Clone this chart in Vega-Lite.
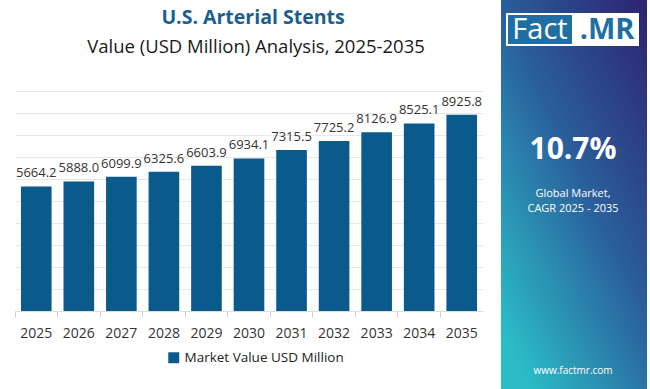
{
  "$schema": "https://vega.github.io/schema/vega-lite/v6.json",
  "width": 468,
  "height": 220,
  "autosize": {"type": "none"},
  "padding": {"left": 15, "top": 91, "right": 167, "bottom": 78},
  "background": "white",
  "config": {"font": "Open Sans", "view": {"stroke": null}},
  "data": {
    "values": [
      {"year": "2025", "value": 5664.2},
      {"year": "2026", "value": 5888.0},
      {"year": "2027", "value": 6099.9},
      {"year": "2028", "value": 6325.6},
      {"year": "2029", "value": 6603.9},
      {"year": "2030", "value": 6934.1},
      {"year": "2031", "value": 7315.5},
      {"year": "2032", "value": 7725.2},
      {"year": "2033", "value": 8126.9},
      {"year": "2034", "value": 8525.1},
      {"year": "2035", "value": 8925.8}
    ]
  },
  "layer": [
    {
      "encoding": {
        "x": {
          "field": "year",
          "type": "ordinal",
          "scale": {"paddingInner": 0, "paddingOuter": 0},
          "axis": {
            "title": null,
            "labelAngle": 0,
            "labelFontSize": 14,
            "labelColor": "#333333",
            "labelPadding": 9,
            "tickColor": "#d0d0d0",
            "tickSize": 6,
            "domainColor": "#dddddd",
            "bandPosition": 0
          }
        },
        "y": {
          "field": "value",
          "type": "quantitative",
          "scale": {"domain": [0, 10000]},
          "axis": {
            "title": null,
            "labels": false,
            "ticks": false,
            "domain": false,
            "values": [0, 1000, 2000, 3000, 4000, 5000, 6000, 7000, 8000, 9000, 10000],
            "gridColor": "#e8e8e8"
          }
        }
      },
      "layer": [
        {
          "mark": {"type": "bar", "width": {"band": 0.72}},
          "encoding": {
            "color": {
              "datum": "Market Value USD Million",
              "scale": {"range": ["#0b5a8c"]},
              "legend": {
                "title": null,
                "orient": "none",
                "legendX": 152,
                "legendY": 260,
                "direction": "horizontal",
                "symbolType": "square",
                "symbolSize": 120,
                "labelFontSize": 13.5,
                "labelColor": "#222222"
              }
            }
          }
        },
        {
          "mark": {"type": "text", "baseline": "bottom", "dy": -6, "fontSize": 13, "color": "#333333"},
          "encoding": {
            "text": {"field": "value", "type": "quantitative", "format": ".1f"}
          }
        }
      ]
    },
    {
      "data": {"values": [{}]},
      "layer": [
        {
          "mark": {"type": "text", "text": "U.S. Arterial Stents", "x": 238, "y": -73, "align": "center", "baseline": "middle", "fontSize": 19.5, "fontWeight": "bold", "color": "#1a5e90"},
          "encoding": {}
        },
        {
          "mark": {"type": "text", "text": "Value (USD Million) Analysis, 2025-2035", "x": 241, "y": -44, "align": "center", "baseline": "middle", "fontSize": 18.5, "color": "#1a1a1a"},
          "encoding": {}
        },
        {
          "mark": {"type": "rule", "x": -5, "x2": 486, "y": -16, "strokeWidth": 2, "color": "#2a6fa8"},
          "encoding": {}
        },
        {
          "mark": {
            "type": "rect", "x": 486, "x2": 632, "y": -91, "y2": 298,
            "color": {
              "gradient": "linear", "x1": 1, "y1": 0, "x2": 0.2, "y2": 1,
              "stops": [
                {"offset": 0, "color": "#2e2270"},
                {"offset": 0.5, "color": "#2a5f9c"},
                {"offset": 1, "color": "#2bbcc6"}
              ]
            }
          },
          "encoding": {}
        },
        {
          "mark": {"type": "rect", "x": 491, "x2": 624, "y": -78, "y2": -45, "color": "white"},
          "encoding": {}
        },
        {
          "mark": {"type": "rect", "x": 493, "x2": 557, "y": -76, "y2": -47, "color": "#1f6fa5"},
          "encoding": {}
        },
        {
          "mark": {"type": "text", "text": "Fact", "x": 525, "y": -61, "align": "center", "baseline": "middle", "fontSize": 29, "color": "white"},
          "encoding": {}
        },
        {
          "mark": {"type": "text", "text": ".MR", "x": 592, "y": -61, "align": "center", "baseline": "middle", "fontSize": 29, "fontWeight": "bold", "color": "#1f6fa5"},
          "encoding": {}
        },
        {
          "mark": {"type": "text", "text": "10.7%", "x": 558, "y": 59, "align": "center", "baseline": "middle", "fontSize": 30, "fontWeight": "bold", "color": "white"},
          "encoding": {}
        },
        {
          "mark": {"type": "rule", "x": 494, "x2": 624, "y": 87, "strokeWidth": 2, "color": "#9fb3de"},
          "encoding": {}
        },
        {
          "mark": {"type": "text", "text": ["Global Market,", "CAGR 2025 - 2035"], "x": 558, "y": 103, "lineHeight": 15, "align": "center", "baseline": "middle", "fontSize": 11, "color": "white"},
          "encoding": {}
        },
        {
          "mark": {"type": "text", "text": "www.factmr.com", "x": 558, "y": 280, "align": "center", "baseline": "middle", "fontSize": 10, "color": "white"},
          "encoding": {}
        }
      ]
    }
  ]
}
